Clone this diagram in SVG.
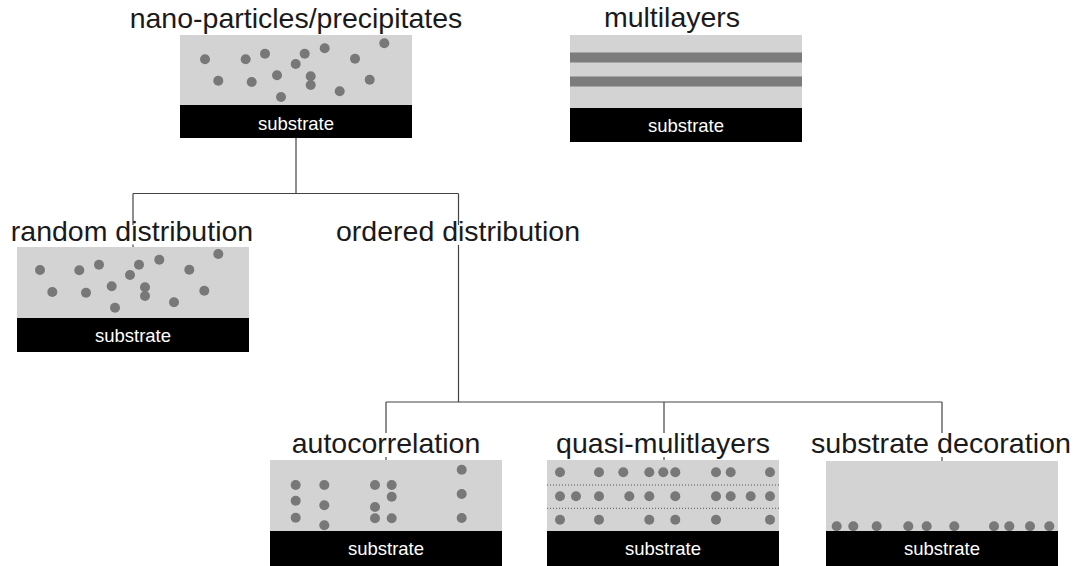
<svg xmlns="http://www.w3.org/2000/svg" width="1073" height="566" viewBox="0 0 1073 566">
<style>
.film{fill:#d3d3d3}
.sub{fill:#000}
.dot{fill:#787878}
.title{font-family:"Liberation Sans",Arial,sans-serif;font-size:28.5px;fill:#1a1a1a;text-anchor:middle}
.st{font-family:"Liberation Sans",Arial,sans-serif;font-size:18.5px;fill:#fff;text-anchor:middle}
.conn{stroke:#444;stroke-width:1.2;fill:none}
.stripe{fill:#7c7c7c}
.dotted{stroke:#555;stroke-width:1;stroke-dasharray:1 2;fill:none}
</style>
<rect width="1073" height="566" fill="#fff"/>
<g id="connectors" class="conn">
<path d="M296 138V193.5M133 193.5H458.5M133 193.5V225M458.5 193.5V225"/>
<path d="M133 244.5V247"/>
<path d="M458.5 245V402M386 402H942M386 402V433M664 402V433M942 402V433"/>
<path d="M386 457V460M664 457V460M942 457V461"/>
</g>
<g id="nano">
<text class="title" x="296" y="28">nano-particles/precipitates</text>
<rect class="film" x="180" y="35" width="232" height="70"/>
<g class="dot">
<circle cx="205" cy="59.3" r="5"/><circle cx="245.7" cy="59.3" r="5"/><circle cx="265" cy="53.7" r="5"/><circle cx="304.7" cy="53.7" r="5"/><circle cx="324.7" cy="48.3" r="5"/><circle cx="384.3" cy="43.3" r="5"/><circle cx="355" cy="58.7" r="5"/><circle cx="295.7" cy="64" r="5"/><circle cx="218.3" cy="80.7" r="5"/><circle cx="251.7" cy="82" r="5"/><circle cx="277" cy="75.3" r="5"/><circle cx="310.7" cy="76.3" r="5"/><circle cx="310.7" cy="85" r="5"/><circle cx="339.7" cy="91.3" r="5"/><circle cx="369.7" cy="79.7" r="5"/><circle cx="281" cy="97" r="5"/>
</g>
<rect class="sub" x="180" y="105" width="232" height="33"/>
<text class="st" x="296" y="130">substrate</text>
</g>
<g id="multilayers">
<text class="title" x="672" y="27">multilayers</text>
<rect class="film" x="570" y="35" width="232" height="73"/>
<rect class="stripe" x="570" y="52.5" width="232" height="10"/>
<rect class="stripe" x="570" y="76.5" width="232" height="10"/>
<rect class="sub" x="570" y="108" width="232" height="34"/>
<text class="st" x="686" y="131.7">substrate</text>
</g>
<g id="random">
<text class="title" x="132" y="241">random distribution</text>
<rect class="film" x="17" y="247" width="232" height="71"/>
<g class="dot">
<circle cx="40" cy="270" r="5"/><circle cx="79.3" cy="270.3" r="5"/><circle cx="99" cy="264.7" r="5"/><circle cx="139" cy="264.7" r="5"/><circle cx="159.3" cy="259.7" r="5"/><circle cx="218.3" cy="254" r="5"/><circle cx="189.3" cy="269.7" r="5"/><circle cx="130" cy="275" r="5"/><circle cx="52.3" cy="292" r="5"/><circle cx="86" cy="292.7" r="5"/><circle cx="111.7" cy="286.3" r="5"/><circle cx="145" cy="287.3" r="5"/><circle cx="145" cy="296" r="5"/><circle cx="174" cy="302.3" r="5"/><circle cx="204.3" cy="290.7" r="5"/><circle cx="115" cy="307.7" r="5"/>
</g>
<rect class="sub" x="17" y="318" width="232" height="34"/>
<text class="st" x="133" y="341.7">substrate</text>
</g>
<g id="ordered">
<text class="title" x="458" y="241">ordered distribution</text>
</g>
<g id="autocorrelation">
<text class="title" x="386" y="453">autocorrelation</text>
<rect class="film" x="270" y="460" width="232" height="71"/>
<g class="dot">
<circle cx="295.7" cy="485" r="5"/><circle cx="324.3" cy="485" r="5"/><circle cx="375" cy="485" r="5"/><circle cx="391.7" cy="485" r="5"/><circle cx="295.7" cy="500.7" r="5"/><circle cx="324.3" cy="505.3" r="5"/><circle cx="391.7" cy="496.7" r="5"/><circle cx="375" cy="507" r="5"/><circle cx="295.7" cy="517.7" r="5"/><circle cx="324.3" cy="525.3" r="5"/><circle cx="375" cy="518.3" r="5"/><circle cx="391.7" cy="518.3" r="5"/><circle cx="461.7" cy="469.7" r="5"/><circle cx="461.7" cy="494" r="5"/><circle cx="461.7" cy="518" r="5"/>
</g>
<rect class="sub" x="270" y="531" width="232" height="35"/>
<text class="st" x="386" y="555">substrate</text>
</g>
<g id="quasi">
<text class="title" x="663" y="453">quasi-mulitlayers</text>
<rect class="film" x="547" y="460" width="232" height="71"/>
<path class="dotted" d="M547 485H779M547 508.3H779"/>
<g class="dot">
<circle cx="560" cy="472.3" r="5"/><circle cx="599" cy="472.3" r="5"/><circle cx="623.3" cy="472.3" r="5"/><circle cx="649.3" cy="472.3" r="5"/><circle cx="663.3" cy="472.3" r="5"/><circle cx="675.3" cy="472.3" r="5"/><circle cx="716" cy="472.3" r="5"/><circle cx="730.7" cy="472.3" r="5"/><circle cx="770" cy="472.3" r="5"/>
<circle cx="560" cy="496.3" r="5"/><circle cx="576" cy="496.3" r="5"/><circle cx="599" cy="496.3" r="5"/><circle cx="629.3" cy="496.3" r="5"/><circle cx="649.3" cy="496.3" r="5"/><circle cx="675.3" cy="496.3" r="5"/><circle cx="716" cy="496.3" r="5"/><circle cx="730.7" cy="496.3" r="5"/><circle cx="750.7" cy="496.3" r="5"/><circle cx="770" cy="496.3" r="5"/>
<circle cx="560" cy="519.7" r="5"/><circle cx="599" cy="519.7" r="5"/><circle cx="649.3" cy="519.7" r="5"/><circle cx="675.3" cy="519.7" r="5"/><circle cx="716" cy="519.7" r="5"/><circle cx="770" cy="519.7" r="5"/>
</g>
<rect class="sub" x="547" y="531" width="232" height="35"/>
<text class="st" x="663" y="555">substrate</text>
</g>
<g id="decoration">
<text class="title" x="941" y="453" textLength="260" lengthAdjust="spacingAndGlyphs">substrate decoration</text>
<rect class="film" x="826" y="461" width="232" height="70"/>
<g class="dot">
<circle cx="836.7" cy="526.3" r="5"/><circle cx="853.3" cy="526.3" r="5"/><circle cx="876.7" cy="526.3" r="5"/><circle cx="908.3" cy="526.3" r="5"/><circle cx="926.7" cy="526.3" r="5"/><circle cx="954.3" cy="526.3" r="5"/><circle cx="994" cy="526.3" r="5"/><circle cx="1009.3" cy="526.3" r="5"/><circle cx="1030" cy="526.3" r="5"/><circle cx="1049.3" cy="526.3" r="5"/>
</g>
<rect class="sub" x="826" y="531" width="232" height="35"/>
<text class="st" x="942" y="555">substrate</text>
</g>
</svg>
